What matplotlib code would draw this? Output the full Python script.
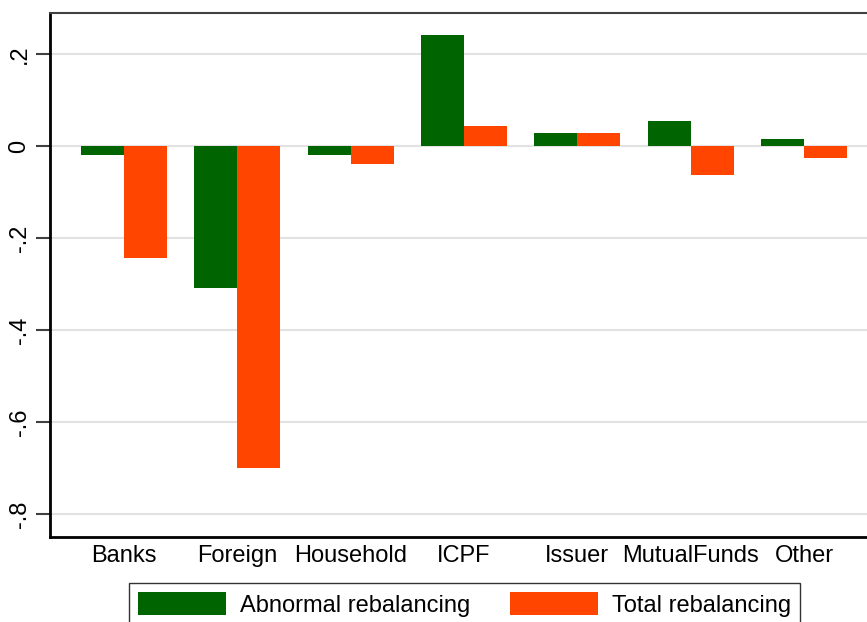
import numpy as np
import matplotlib
matplotlib.use('Agg')
import matplotlib.pyplot as plt

# investor groups and rebalancing estimates
groups = ['Banks', 'Foreign', 'Household', 'ICPF', 'Issuer', 'MutualFunds', 'Other']
abnormal = [-0.020, -0.308, -0.020, 0.241, 0.028, 0.054, 0.015]
total = [-0.243, -0.700, -0.039, 0.044, 0.028, -0.063, -0.026]
yticks = [0.2, 0, -0.2, -0.4, -0.6, -0.8]
ytick_labels = ['.2', '0', '-.2', '-.4', '-.6', '-.8']

plt.rcParams['font.family'] = ['Liberation Sans', 'DejaVu Sans']
fs = 17

fig = plt.figure(figsize=(8.67, 6.22), dpi=100)
W, H = 867, 622
ax = fig.add_axes([50 / W, 1 - 537 / H, (W - 50) / W, (537 - 13) / H])

x = np.arange(1, len(groups) + 1)
bw = 0.379
ax.bar(x - bw / 2, abnormal, bw, color='#006400', label='Abnormal rebalancing', zorder=3)
ax.bar(x + bw / 2, total, bw, color='#ff4500', label='Total rebalancing', zorder=3)

ax.set_xlim(1 - 74 / 113.5, 7 + 63 / 113.5)
ax.set_ylim(-0.85, 0.289)

ax.set_yticks(yticks)
ax.set_yticklabels(ytick_labels, rotation=90, va='center', fontsize=fs)
ax.set_xticks(x)
ax.set_xticklabels(groups, fontsize=fs)
ax.tick_params(axis='x', length=0, pad=6)
ax.tick_params(axis='y', length=10, width=1.5, color='#404040', pad=4)
ax.grid(axis='y', color='#e2e2e2', linewidth=1.5, zorder=0)

ax.spines['left'].set_linewidth(2)
ax.spines['bottom'].set_linewidth(2)
ax.spines['left'].set_color('black')
ax.spines['bottom'].set_color('black')
ax.spines['top'].set_color('#404040')
ax.spines['top'].set_linewidth(1.5)
ax.spines['right'].set_visible(False)

leg = fig.legend(loc='upper left', bbox_to_anchor=(129 / W, 1 - 583 / H), ncol=2,
                 fontsize=fs, frameon=True, fancybox=False, edgecolor='black',
                 handlelength=3.7, handleheight=1.1, handletextpad=0.6,
                 columnspacing=1.7, borderpad=0.4, borderaxespad=0)
leg.get_frame().set_linewidth(1.0)

fig.savefig('out.png', dpi=100)
